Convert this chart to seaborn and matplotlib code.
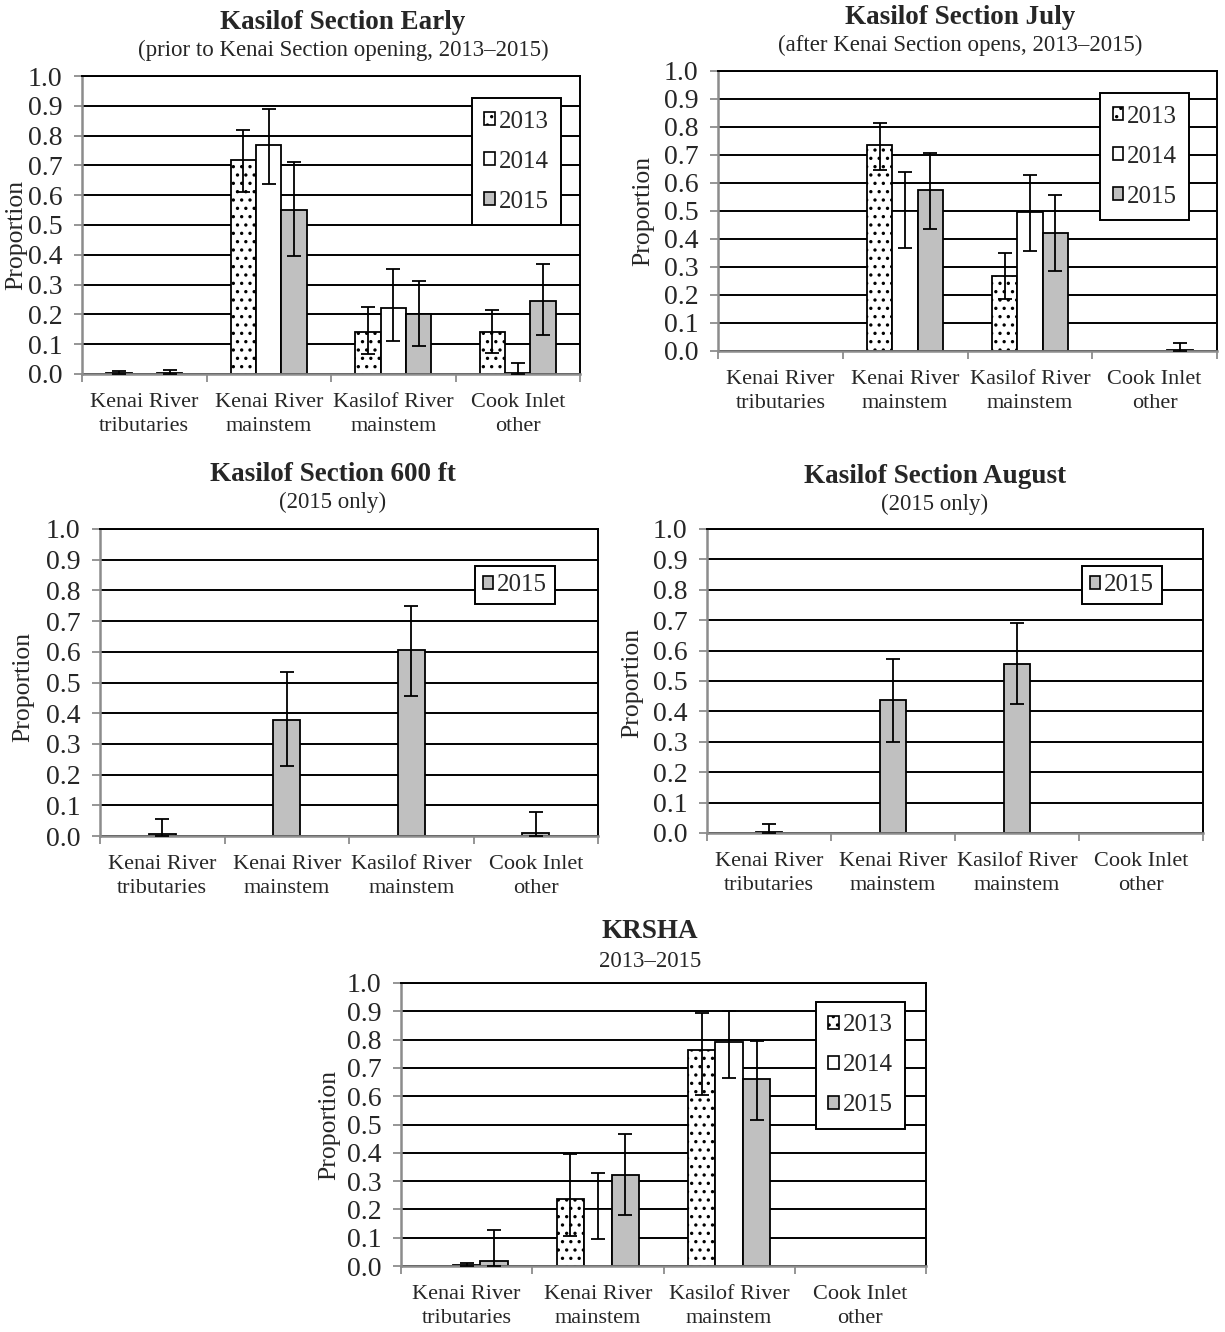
import matplotlib
matplotlib.use('Agg')
import matplotlib.pyplot as plt
from matplotlib.patches import Patch
from matplotlib.ticker import FormatStrFormatter, FixedLocator
import seaborn as sns
import pandas as pd
import numpy as np

sns.set_theme(style="white")
plt.rcParams['font.family'] = ['Liberation Serif', 'DejaVu Serif']
plt.rcParams['hatch.linewidth'] = 1.2
plt.rcParams['hatch.color'] = 'black'

FIG_W, FIG_H = 1225, 1332

categories = ["Kenai River\ntributaries", "Kenai River\nmainstem",
              "Kasilof River\nmainstem", "Cook Inlet\nother"]
years = ["2013", "2014", "2015"]

# Kasilof Section Early
early_2013 = [0.002, 0.718, 0.140, 0.140]
early_2013_lo = [0.000, 0.610, 0.068, 0.072]
early_2013_hi = [0.010, 0.820, 0.226, 0.216]
early_2014 = [0.000, 0.770, 0.223, 0.005]
early_2014_lo = [0.000, 0.637, 0.110, 0.000]
early_2014_hi = [0.000, 0.888, 0.353, 0.037]
early_2015 = [0.005, 0.552, 0.200, 0.246]
early_2015_lo = [0.000, 0.395, 0.095, 0.132]
early_2015_hi = [0.015, 0.712, 0.313, 0.370]

# Kasilof Section July
july_2013 = [0.001, 0.735, 0.267, 0.000]
july_2013_lo = [0.001, 0.648, 0.184, 0.000]
july_2013_hi = [0.001, 0.815, 0.349, 0.000]
july_2014 = [0.001, 0.500, 0.495, 0.000]
july_2014_lo = [0.001, 0.367, 0.358, 0.000]
july_2014_hi = [0.001, 0.641, 0.628, 0.000]
july_2015 = [0.000, 0.576, 0.420, 0.005]
july_2015_lo = [0.000, 0.437, 0.287, 0.000]
july_2015_hi = [0.000, 0.708, 0.557, 0.029]

# Kasilof Section 600 ft (2015 only)
ft600_2015 = [0.007, 0.379, 0.605, 0.010]
ft600_2015_lo = [0.000, 0.228, 0.457, 0.000]
ft600_2015_hi = [0.055, 0.533, 0.749, 0.077]

# Kasilof Section August (2015 only)
aug_2015 = [0.003, 0.436, 0.557, 0.001]
aug_2015_lo = [0.000, 0.300, 0.423, 0.001]
aug_2015_hi = [0.028, 0.571, 0.690, 0.001]

# KRSHA
krsha_2013 = [0.000, 0.236, 0.764, 0.000]
krsha_2013_lo = [0.000, 0.105, 0.606, 0.000]
krsha_2013_hi = [0.000, 0.394, 0.895, 0.000]
krsha_2014 = [0.005, 0.200, 0.791, 0.000]
krsha_2014_lo = [0.000, 0.096, 0.666, 0.000]
krsha_2014_hi = [0.011, 0.329, 0.901, 0.000]
krsha_2015 = [0.018, 0.320, 0.660, 0.000]
krsha_2015_lo = [0.000, 0.180, 0.515, 0.000]
krsha_2015_hi = [0.128, 0.465, 0.795, 0.000]

FILL = {"2013": "white", "2014": "white", "2015": "#c0c0c0"}
HATCH = {"2013": "..", "2014": "", "2015": ""}


def px_axes(fig, x0, y0, x1, y1):
    return fig.add_axes([x0 / FIG_W, 1 - y1 / FIG_H, (x1 - x0) / FIG_W, (y1 - y0) / FIG_H])


def draw_panel(ax, series, width, leg_xy, leg_pad):
    rows = []
    for yr, (vals, lo, hi) in series.items():
        for c, v in zip(categories, vals):
            rows.append({"category": c, "year": yr, "value": v})
    df = pd.DataFrame(rows)
    yrs = list(series.keys())
    ax.set_axisbelow(True)
    ax.yaxis.grid(True, color='black', linewidth=1.4)
    sns.barplot(data=df, x="category", y="value", hue="year", order=categories,
                hue_order=yrs, palette=FILL, width=width, edgecolor="black",
                linewidth=1.3, errorbar=None, saturation=1, legend=False, ax=ax,
                zorder=2)
    for cont, yr in zip(ax.containers, yrs):
        vals, lo, hi = series[yr]
        xs, ys, el, eh = [], [], [], []
        for bar, v, l, h in zip(cont, vals, lo, hi):
            bar.set_hatch(HATCH[yr])
            if h - l > 1e-9:
                xs.append(bar.get_x() + bar.get_width() / 2)
                ys.append(v)
                el.append(v - l)
                eh.append(h - v)
        if xs:
            ax.errorbar(xs, ys, yerr=[el, eh], fmt='none', ecolor='black',
                        elinewidth=1.3, capsize=4.8, capthick=1.3, zorder=4)

    ax.set_ylim(0, 1.0)
    ax.set_xlim(-0.5, 3.5)
    ax.yaxis.set_major_locator(FixedLocator(np.arange(0, 1.01, 0.1)))
    ax.yaxis.set_major_formatter(FormatStrFormatter('%.1f'))
    ax.set_xlabel("")
    ax.set_ylabel("")
    ax.tick_params(axis='y', which='major', left=True, length=6, width=1.3,
                   color='#8c8c8c', labelsize=20, pad=8)
    ax.xaxis.set_minor_locator(FixedLocator([-0.5, 0.5, 1.5, 2.5, 3.5]))
    ax.tick_params(axis='x', which='major', length=0, labelsize=16, pad=14)
    ax.tick_params(axis='x', which='minor', bottom=True, length=6, width=1.3,
                   color='#8c8c8c')
    for lab in ax.get_xticklabels():
        lab.set_linespacing(1.35)
    for side in ['left', 'bottom']:
        ax.spines[side].set_color('#8c8c8c')
        ax.spines[side].set_linewidth(1.8)
    for side in ['top', 'right']:
        ax.spines[side].set_color('black')
        ax.spines[side].set_linewidth(1.4)

    handles = [Patch(facecolor=FILL[y], edgecolor='black', hatch=HATCH[y],
                     linewidth=1.2) for y in yrs]
    leg = ax.legend(handles, yrs, loc='upper left', bbox_to_anchor=leg_xy,
                    borderaxespad=0, fontsize=18, frameon=True, fancybox=False,
                    framealpha=1, edgecolor='black', handlelength=0.42,
                    handleheight=0.42, handletextpad=0.15, labelspacing=0.72,
                    borderpad=leg_pad)
    leg.get_frame().set_linewidth(1.4)


fig = plt.figure(figsize=(FIG_W / 100, FIG_H / 100), dpi=100)
fig.patch.set_facecolor('white')

panels = [
    dict(box=(82, 76, 580, 374), width=0.61, leg=(0.783, 0.926), pad=0.5,
         series={"2013": (early_2013, early_2013_lo, early_2013_hi),
                 "2014": (early_2014, early_2014_lo, early_2014_hi),
                 "2015": (early_2015, early_2015_lo, early_2015_hi)},
         title="Kasilof Section Early", sub="(prior to Kenai Section opening, 2013\u20132015)",
         tx=343, ty=29, sy=56, lx=16, ly=235),
    dict(box=(718, 71, 1217, 351), width=0.61, leg=(0.766, 0.921), pad=0.5,
         series={"2013": (july_2013, july_2013_lo, july_2013_hi),
                 "2014": (july_2014, july_2014_lo, july_2014_hi),
                 "2015": (july_2015, july_2015_lo, july_2015_hi)},
         title="Kasilof Section July", sub="(after Kenai Section opens, 2013\u20132015)",
         tx=960, ty=24, sy=51, lx=643, ly=211),
    dict(box=(100, 529, 598, 836), width=0.216, leg=(0.753, 0.879), pad=0.32,
         series={"2015": (ft600_2015, ft600_2015_lo, ft600_2015_hi)},
         title="Kasilof Section 600 ft", sub="(2015 only)",
         tx=333, ty=481, sy=508, lx=23, ly=687),
    dict(box=(707, 529, 1203, 833), width=0.216, leg=(0.756, 0.878), pad=0.32,
         series={"2015": (aug_2015, aug_2015_lo, aug_2015_hi)},
         title="Kasilof Section August", sub="(2015 only)",
         tx=935, ty=483, sy=510, lx=632, ly=683),
    dict(box=(401, 983, 926, 1266), width=0.63, leg=(0.79, 0.933), pad=0.5,
         series={"2013": (krsha_2013, krsha_2013_lo, krsha_2013_hi),
                 "2014": (krsha_2014, krsha_2014_lo, krsha_2014_hi),
                 "2015": (krsha_2015, krsha_2015_lo, krsha_2015_hi)},
         title="KRSHA", sub="2013\u20132015",
         tx=650, ty=938, sy=967, lx=329, ly=1125),
]

for p in panels:
    ax = px_axes(fig, *p["box"])
    ax.set_facecolor('white')
    draw_panel(ax, p["series"], p["width"], p["leg"], p["pad"])
    fig.text(p["tx"] / FIG_W, 1 - p["ty"] / FIG_H, p["title"], ha='center',
             va='baseline', fontsize=19.5, fontweight='bold')
    fig.text(p["tx"] / FIG_W, 1 - p["sy"] / FIG_H, p["sub"], ha='center',
             va='baseline', fontsize=16.5)
    fig.text(p["lx"] / FIG_W, 1 - p["ly"] / FIG_H, "Proportion", ha='center',
             va='center', rotation=90, fontsize=18.5)

fig.savefig('out.png', dpi=100, facecolor='white')
